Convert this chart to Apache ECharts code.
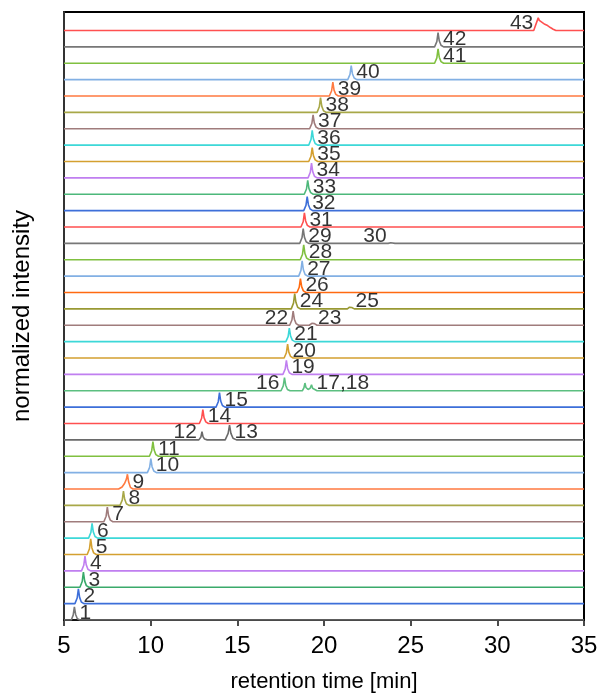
<!DOCTYPE html>
<html>
<head>
<meta charset="utf-8">
<script src="https://cdn.jsdelivr.net/npm/echarts@6/dist/echarts.min.js"></script>
<style>
  html, body { margin: 0; background: #fff; }
  #chart { width: 598px; height: 693px; }
</style>
</head>
<body>
<div id="chart"></div>
<script>
// one chromatogram per row, bottom row first; y = relative intensity above its own baseline
const traceColors = [
  "#777777", "#3d6fd9", "#3aaa6a", "#c07ff0", "#d4a030", "#3dd8d8", "#a07c7c", "#a8a848", "#ff7a40",
  "#82b0e4", "#80c040", "#6a6a6a", "#ff5050", "#3d6fd9", "#5cbf80", "#c07ff0", "#d4a030", "#3dd8d8",
  "#a07c7c", "#999933", "#ff6a10", "#82b0e4", "#80c040", "#777777", "#ff5050", "#3d6fd9", "#4db87a",
  "#c07ff0", "#d4a030", "#3dd8d8", "#a07c7c", "#a8a848", "#ff7a40", "#82b0e4", "#80c040", "#777777",
  "#ff5050"
];

const traces = [
  [[5,0],[5.42,0],[5.53,0.3],[5.6,0.8],[5.67,0.34],[5.77,0.08],[5.92,0],[35,0]],
  [[5,0],[5.63,0],[5.76,0.34],[5.83,0.9],[5.9,0.38],[6,0.1],[6.15,0],[35,0]],
  [[5,0],[5.92,0],[6.05,0.35],[6.12,0.93],[6.19,0.39],[6.29,0.1],[6.44,0],[35,0]],
  [[5,0],[6.01,0],[6.14,0.34],[6.21,0.9],[6.28,0.38],[6.38,0.1],[6.53,0],[35,0]],
  [[5,0],[6.34,0],[6.47,0.35],[6.54,0.95],[6.61,0.4],[6.71,0.1],[6.86,0],[35,0]],
  [[5,0],[6.42,0],[6.55,0.34],[6.62,0.9],[6.69,0.38],[6.79,0.1],[6.94,0],[35,0]],
  [[5,0],[7.3,0],[7.43,0.34],[7.5,0.9],[7.57,0.38],[7.67,0.1],[7.82,0],[35,0]],
  [[5,0],[8.23,0],[8.36,0.32],[8.43,0.87],[8.5,0.37],[8.6,0.1],[8.75,0],[35,0]],
  [[5,0],[8.15,0],[8.35,0.12],[8.5,0.35],[8.6,0.6],[8.66,0.9],[8.73,0.42],[8.83,0.1],[8.98,0],[35,0]],
  [[5,0],[9.81,0],[9.94,0.32],[10.01,0.85],[10.08,0.36],[10.18,0.1],[10.33,0],[35,0]],
  [[5,0],[9.93,0],[10.06,0.34],[10.13,0.9],[10.2,0.38],[10.3,0.1],[10.45,0],[35,0]],
  [[5,0],[12.78,0],[12.9,0.18],[12.96,0.5],[13.02,0.2],[13.11,0.05],[13.26,0],
   [14.3,0],[14.47,0.4],[14.55,0.9],[14.63,0.4],[14.75,0.1],[14.95,0],[35,0]],
  [[5,0],[12.81,0],[12.94,0.32],[13.01,0.85],[13.08,0.36],[13.18,0.1],[13.33,0],[35,0]],
  [[5,0],[13.77,0],[13.9,0.33],[13.97,0.88],[14.04,0.37],[14.14,0.1],[14.29,0],[35,0]],
  [[5,0],[17.52,0],[17.65,0.3],[17.72,0.8],[17.79,0.34],[17.89,0.08],[18.04,0],
   [18.75,0],[18.84,0.17],[18.9,0.47],[18.96,0.2],[19.08,0.08],[19.2,0.15],[19.28,0.37],[19.34,0.15],[19.45,0.04],[19.6,0],[35,0]],
  [[5,0],[17.63,0],[17.76,0.32],[17.83,0.85],[17.9,0.36],[18,0.1],[18.15,0],[35,0]],
  [[5,0],[17.7,0],[17.83,0.32],[17.9,0.85],[17.97,0.36],[18.07,0.1],[18.22,0],[35,0]],
  [[5,0],[17.8,0],[17.93,0.31],[18,0.83],[18.07,0.35],[18.17,0.09],[18.32,0],[35,0]],
  [[5,0],[18.02,0],[18.15,0.32],[18.22,0.87],[18.29,0.37],[18.39,0.1],[18.54,0],
   [19.15,0],[19.3,0.12],[19.37,0.2],[19.45,0.1],[19.6,0],[35,0]],
  [[5,0],[18.11,0],[18.24,0.35],[18.31,0.94],[18.38,0.4],[18.48,0.1],[18.63,0],
   [21.35,0],[21.47,0.1],[21.53,0.22],[21.6,0.08],[21.75,0],[35,0]],
  [[5,0],[18.44,0],[18.57,0.32],[18.64,0.85],[18.71,0.36],[18.81,0.1],[18.96,0],[35,0]],
  [[5,0],[18.54,0],[18.67,0.35],[18.74,0.93],[18.81,0.39],[18.91,0.1],[19.06,0],[35,0]],
  [[5,0],[18.63,0],[18.76,0.34],[18.83,0.91],[18.9,0.38],[19,0.1],[19.15,0],[35,0]],
  [[5,0],[18.6,0],[18.73,0.34],[18.8,0.9],[18.87,0.38],[18.97,0.1],[19.12,0],
   [23.7,0],[23.85,0.04],[23.95,0.05],[24.1,0],[35,0]],
  [[5,0],[18.67,0],[18.8,0.32],[18.87,0.87],[18.94,0.37],[19.04,0.1],[19.19,0],[35,0]],
  [[5,0],[18.83,0],[18.96,0.32],[19.03,0.85],[19.1,0.36],[19.2,0.1],[19.35,0],[35,0]],
  [[5,0],[18.86,0],[18.99,0.32],[19.06,0.85],[19.13,0.36],[19.23,0.1],[19.38,0],[35,0]],
  [[5,0],[19.08,0],[19.21,0.34],[19.28,0.9],[19.35,0.38],[19.45,0.1],[19.6,0],[35,0]],
  [[5,0],[19.12,0],[19.25,0.32],[19.32,0.85],[19.39,0.36],[19.49,0.1],[19.64,0],[35,0]],
  [[5,0],[19.12,0],[19.25,0.34],[19.32,0.9],[19.39,0.38],[19.49,0.1],[19.64,0],[35,0]],
  [[5,0],[19.17,0],[19.3,0.32],[19.37,0.85],[19.44,0.36],[19.54,0.1],[19.69,0],[35,0]],
  [[5,0],[19.6,0],[19.73,0.34],[19.8,0.9],[19.87,0.38],[19.97,0.1],[20.12,0],[35,0]],
  [[5,0],[20.31,0],[20.44,0.32],[20.51,0.85],[20.58,0.36],[20.68,0.1],[20.83,0],[35,0]],
  [[5,0],[21.37,0],[21.5,0.32],[21.57,0.85],[21.64,0.36],[21.74,0.1],[21.89,0],[35,0]],
  [[5,0],[26.38,0],[26.51,0.33],[26.58,0.88],[26.65,0.37],[26.75,0.1],[26.9,0],[35,0]],
  [[5,0],[26.38,0],[26.51,0.32],[26.58,0.87],[26.65,0.37],[26.75,0.1],[26.9,0],[35,0]],
  [[5,0],[32.1,0],[32.25,0.45],[32.36,0.77],[32.42,0.62],[32.5,0.58],[32.58,0.5],[32.66,0.45],[32.74,0.38],
   [32.82,0.34],[32.9,0.3],[32.98,0.22],[33.06,0.18],[33.13,0.14],[33.22,0.08],[33.3,0.05],[33.38,0],[35,0]]
];

// peak numbers: text, retention time, row, side of the peak
const peakLabels = [
  ["1",5.6,0,"R"],["2",5.83,1,"R"],["3",6.12,2,"R"],["4",6.21,3,"R"],["5",6.54,4,"R"],
  ["6",6.62,5,"R"],["7",7.5,6,"R"],["8",8.43,7,"R"],["9",8.66,8,"R"],["10",10.01,9,"R"],
  ["11",10.13,10,"R"],["12",12.96,11,"L"],["13",14.55,11,"R"],["14",13.01,12,"R"],["15",13.97,13,"R"],
  ["16",17.72,14,"L"],["17,18",19.28,14,"R"],["19",17.83,15,"R"],["20",17.9,16,"R"],["21",18.0,17,"R"],
  ["22",18.22,18,"L"],["23",19.37,18,"R"],["24",18.31,19,"R"],["25",21.53,19,"R"],["26",18.64,20,"R"],
  ["27",18.74,21,"R"],["28",18.83,22,"R"],["29",18.8,23,"R"],["30",23.9,23,"L"],["31",18.87,24,"R"],
  ["32",19.03,25,"R"],["33",19.06,26,"R"],["34",19.28,27,"R"],["35",19.32,28,"R"],["36",19.32,29,"R"],
  ["37",19.37,30,"R"],["38",19.8,31,"R"],["39",20.51,32,"R"],["40",21.57,33,"R"],["41",26.58,34,"R"],
  ["42",26.58,35,"R"],["43",32.36,36,"L"]
];

const xMin = 5, xMax = 35, xStep = 5;
const font = "'Liberation Sans', Arial, sans-serif";

const chart = echarts.init(document.getElementById("chart"), null, { renderer: "canvas" });

const lineSeries = traces.map((pts, i) => ({
  type: "line",
  data: pts.map(([t, v]) => [t, i + v]),
  showSymbol: false,
  smooth: false,
  silent: true,
  lineStyle: { color: traceColors[i], width: 1.6 },
  z: 2
}));

const labelSeries = {
  type: "scatter",
  symbolSize: 0,
  silent: true,
  z: 5,
  data: peakLabels.map(([text, t, row, side]) => ({
    name: text,
    value: [t, row + 0.44],
    label: { position: side === "L" ? "left" : "right" }
  })),
  label: {
    show: true,
    distance: 5,
    formatter: (p) => p.name,
    color: "#000",
    textBorderWidth: 0,
    textBorderColor: "transparent",
    fontSize: 21,
    fontFamily: font
  }
};

chart.setOption({
  animation: false,
  backgroundColor: "#fff",
  grid: {
    left: 64, right: 14, top: 12, bottom: 73,
    outerBoundsMode: "none",
    containLabel: false,
    show: true, borderColor: "#000", borderWidth: 2, backgroundColor: "transparent"
  },
  xAxis: {
    type: "value",
    min: xMin, max: xMax, interval: xStep,
    name: "retention time [min]",
    nameLocation: "middle",
    nameGap: 51,
    nameTextStyle: { color: "#000", fontSize: 22, fontFamily: font },
    axisLine: { show: true, lineStyle: { color: "#111", width: 2 } },
    axisTick: { show: true, inside: false, length: 6, lineStyle: { color: "#111", width: 1.5 } },
    axisLabel: { color: "#000", fontSize: 24, fontFamily: font, margin: 14 },
    splitLine: { show: false }
  },
  yAxis: {
    type: "value",
    min: 0, max: 37.13,
    name: "normalized intensity",
    nameLocation: "middle",
    nameGap: 30,
    nameTextStyle: { color: "#000", fontSize: 24, fontFamily: font },
    axisLine: { show: true, lineStyle: { color: "#333", width: 2 } },
    axisTick: { show: false },
    axisLabel: { show: false },
    splitLine: { show: false }
  },
  series: [...lineSeries, labelSeries]
});
</script>
</body>
</html>
